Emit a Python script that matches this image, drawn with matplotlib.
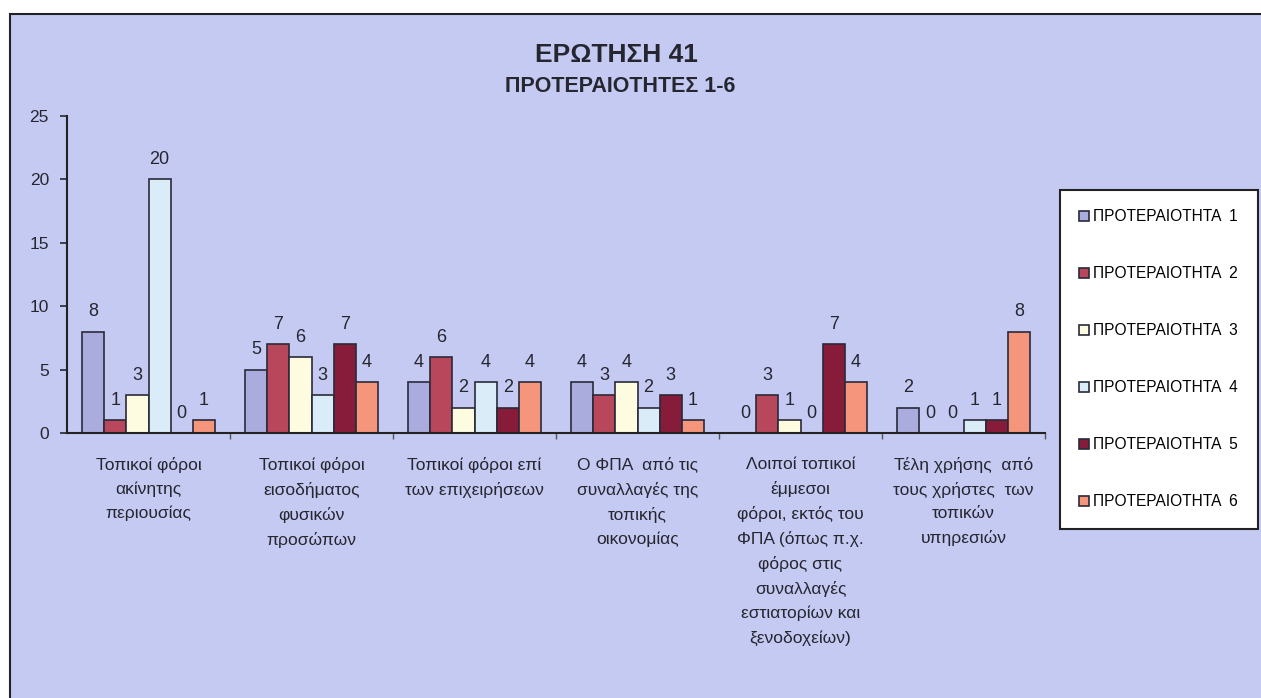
import matplotlib
matplotlib.use("Agg")
from matplotlib import pyplot
from matplotlib.patches import Rectangle
import numpy as np

pyplot.rcParams['font.family'] = ['Liberation Sans', 'DejaVu Sans']

categories = [
    "Τοπικοί φόροι\nακίνητης\nπεριουσίας",
    "Τοπικοί φόροι\nεισοδήματος\nφυσικών\nπροσώπων",
    "Τοπικοί φόροι επί\nτων επιχειρήσεων",
    "Ο ΦΠΑ  από τις\nσυναλλαγές της\nτοπικής\nοικονομίας",
    "Λοιποί τοπικοί\nέμμεσοι\nφόροι, εκτός του\nΦΠΑ (όπως π.χ.\nφόρος στις\nσυναλλαγές\nεστιατορίων και\nξενοδοχείων)",
    "Τέλη χρήσης  από\nτους χρήστες  των\nτοπικών\nυπηρεσιών",
]
series_names = ["ΠΡΟΤΕΡΑΙΟΤΗΤΑ  1", "ΠΡΟΤΕΡΑΙΟΤΗΤΑ  2", "ΠΡΟΤΕΡΑΙΟΤΗΤΑ  3",
                "ΠΡΟΤΕΡΑΙΟΤΗΤΑ  4", "ΠΡΟΤΕΡΑΙΟΤΗΤΑ  5", "ΠΡΟΤΕΡΑΙΟΤΗΤΑ  6"]
priority_1 = [8, 5, 4, 4, 0, 2]
priority_2 = [1, 7, 6, 3, 3, 0]
priority_3 = [3, 6, 2, 4, 1, 0]
priority_4 = [20, 3, 4, 2, 0, 1]
priority_5 = [0, 7, 2, 3, 7, 1]
priority_6 = [1, 4, 4, 1, 4, 8]
series_values = [priority_1, priority_2, priority_3, priority_4, priority_5, priority_6]

colors = ['#a9acdc', '#b8475c', '#fdfbe0', '#d9ecf8', '#871b3a', '#f5957c']
bg = '#c5caf2'
ink = '#262630'

fig = pyplot.figure(figsize=(12.61, 6.98), dpi=100)
fig.patch.set_facecolor('white')
# lavender panel with a frame on the top and left edges
fig.patches.append(Rectangle((10 / 1261, -0.05), 1.1, 1.05 - 14 / 698,
                             transform=fig.transFigure, facecolor=bg,
                             edgecolor='#222222', linewidth=1.5, zorder=-1))

ax = fig.add_axes([67 / 1261, 1 - 433 / 698, 978 / 1261, 317 / 698])
ax.set_facecolor('none')

x = np.arange(len(categories))
width = 0.136
for j, (vals, name, col) in enumerate(zip(series_values, series_names, colors)):
    pos = x + (j - 2.5) * width
    bars = ax.bar(pos, vals, width, color=col, edgecolor='#2a2a3a',
                  linewidth=1.2, label=name)
    for b, v in zip(bars, vals):
        ax.text(b.get_x() + b.get_width() / 2, v + 0.9, str(v),
                ha='center', va='bottom', fontsize=13, color=ink)

ax.set_xlim(-0.5, 5.5)
ax.set_ylim(0, 25)
ax.set_yticks([0, 5, 10, 15, 20, 25])
ax.tick_params(axis='y', labelsize=12.5, length=5, width=1.2, colors=ink, pad=8)
ax.set_xticks(x)
ax.set_xticklabels(categories, fontsize=12.5, color=ink, linespacing=1.7, va='top')
ax.tick_params(axis='x', length=0, pad=17)
ax.set_xticks(np.arange(0.5, 6, 1), minor=True)
ax.tick_params(axis='x', which='minor', length=4, width=1, colors='#555555')
for side in ['top', 'right']:
    ax.spines[side].set_visible(False)
for side in ['left', 'bottom']:
    ax.spines[side].set_linewidth(1.5)
    ax.spines[side].set_color('#222222')

fig.text(0.489, 1 - 55 / 698, "ΕΡΩΤΗΣΗ 41", ha='center', va='center',
         fontsize=19, fontweight='bold', color=ink)
fig.text(0.492, 1 - 87 / 698, "ΠΡΟΤΕΡΑΙΟΤΗΤΕΣ 1-6", ha='center', va='center',
         fontsize=15.5, fontweight='bold', color=ink)

leg = fig.legend(loc='upper left', bbox_to_anchor=(1060 / 1261, 1 - 190 / 698),
                 borderaxespad=0, fontsize=11.2, labelspacing=2.7, handlelength=0.6,
                 handleheight=0.6, handletextpad=0.3, fancybox=False,
                 framealpha=1, edgecolor='#222222', borderpad=1.25)
leg.get_frame().set_linewidth(1.5)

fig.savefig('out.png', dpi=100, facecolor=fig.get_facecolor())
